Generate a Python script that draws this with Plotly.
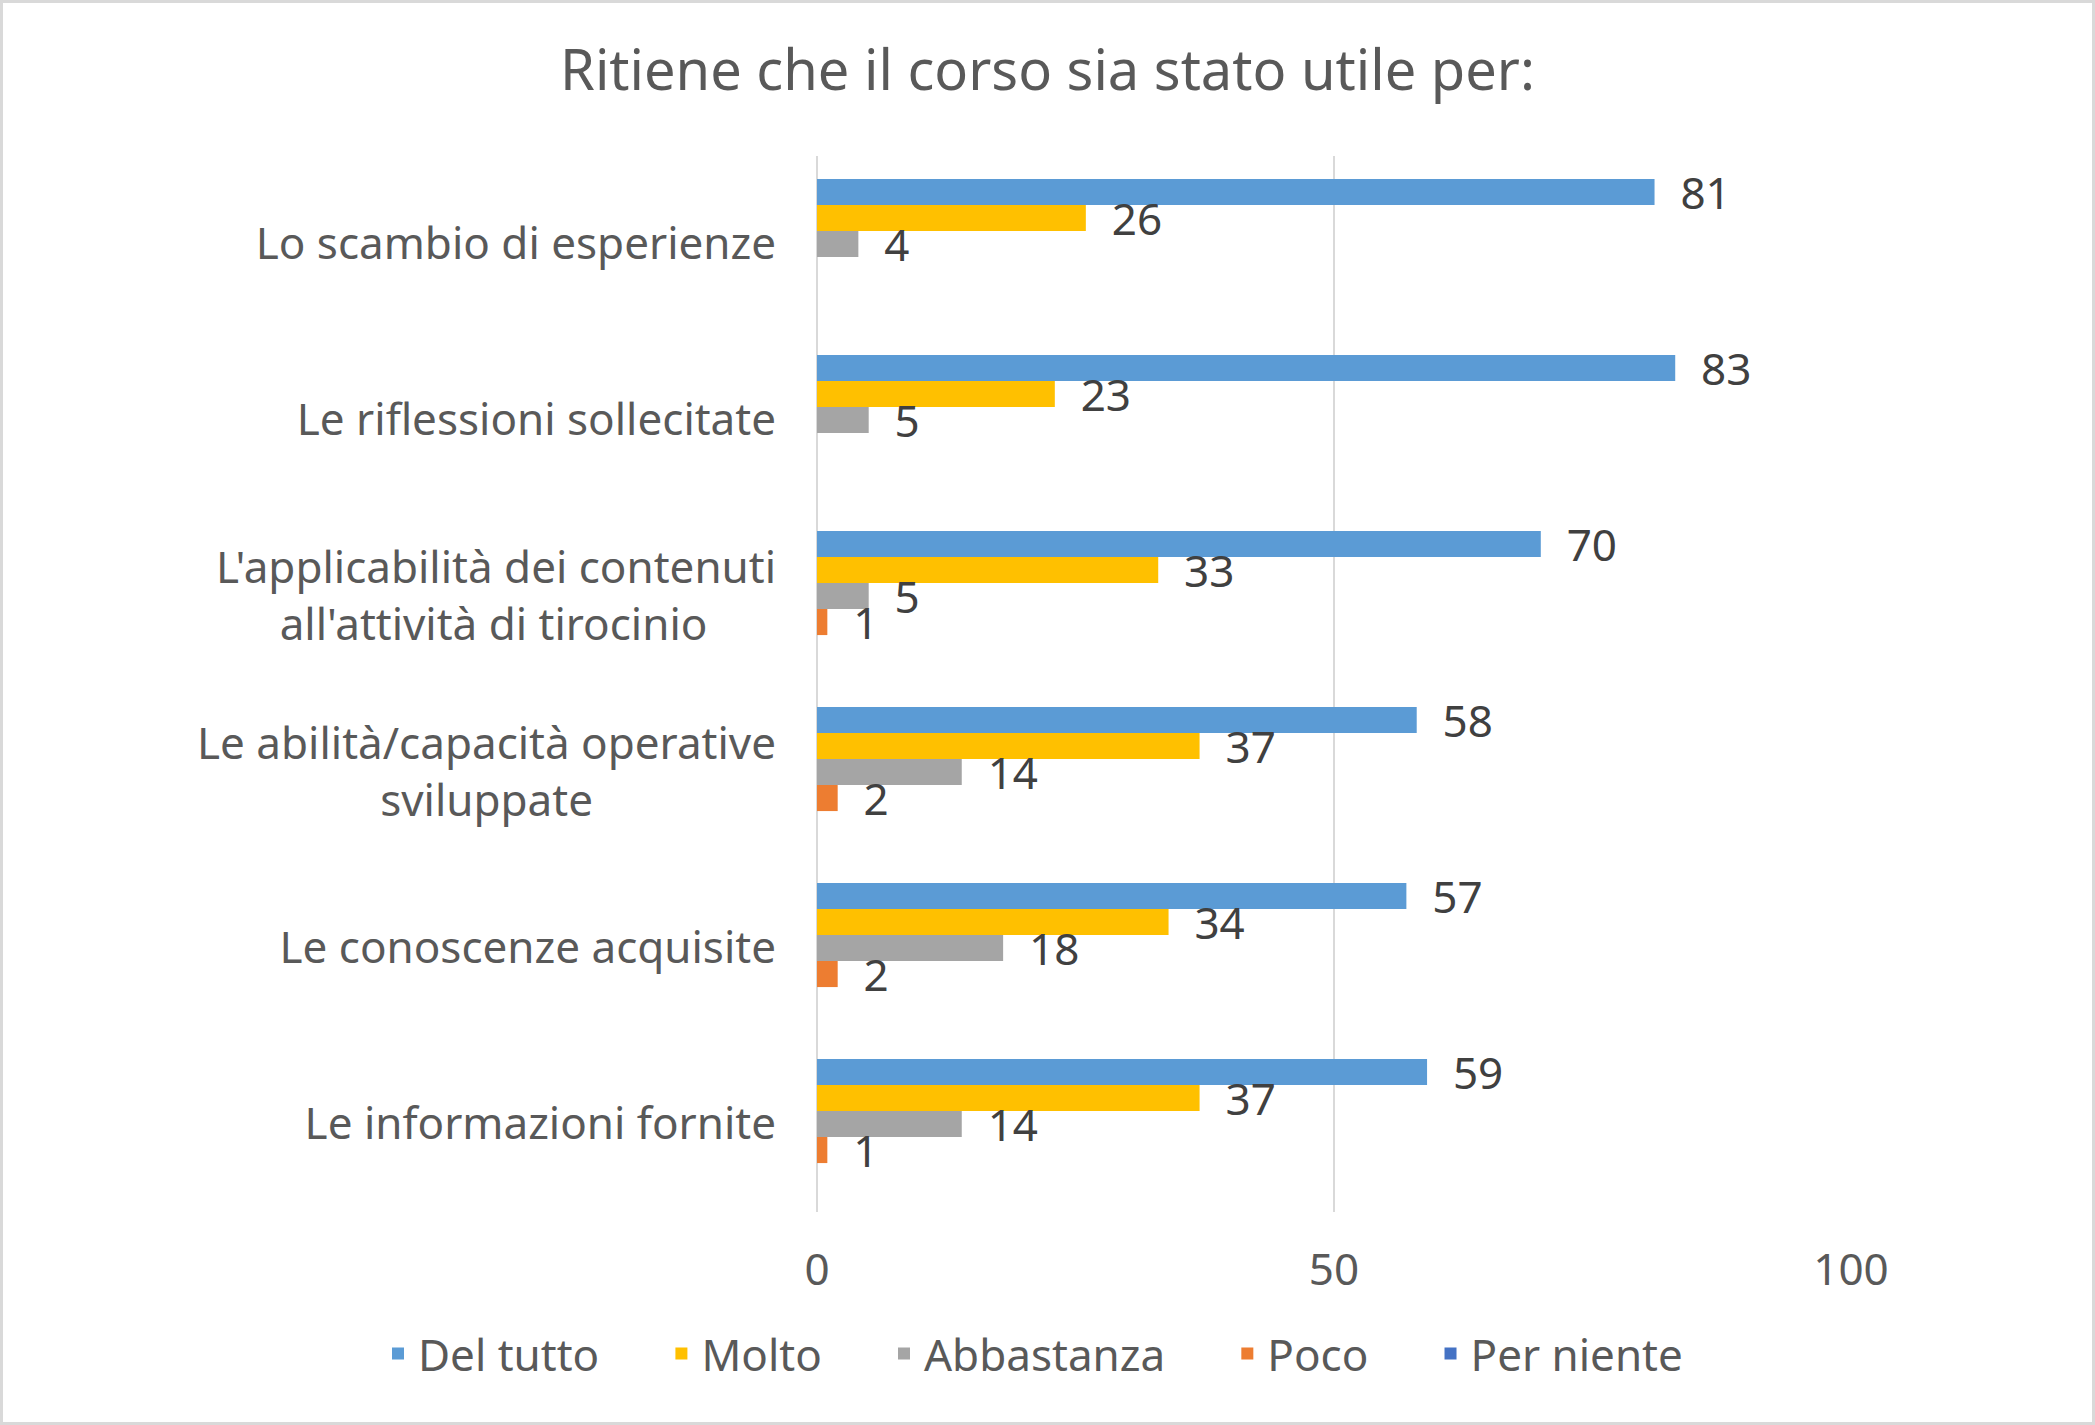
import plotly.graph_objects as go

NB = "\u00a0"

categories = [
    "Lo scambio di esperienze",
    "Le riflessioni sollecitate",
    "L'applicabilità dei contenuti<br>all'attività di tirocinio" + NB * 6,
    "Le abilità/capacità operative<br>sviluppate" + NB * 16,
    "Le conoscenze acquisite",
    "Le informazioni fornite",
]

series_names = ["Del tutto", "Molto", "Abbastanza", "Poco", "Per niente"]
del_tutto = [81, 83, 70, 58, 57, 59]
molto = [26, 23, 33, 37, 34, 37]
abbastanza = [4, 5, 5, 14, 18, 14]
poco = [None, None, 1, 2, 2, 1]
per_niente = [None, None, None, None, None, None]

series_values = [del_tutto, molto, abbastanza, poco, per_niente]
colors = ["#5B9BD5", "#FFC000", "#A5A5A5", "#ED7D31", "#4472C4"]

FONT = "Noto Sans"
FS = 44
W, H = 2095, 1425
L, R, T, B = 817, 244, 156, 213

fig = go.Figure()
for i, (name, vals, col) in enumerate(zip(series_names, series_values, colors)):
    fig.add_trace(go.Bar(
        y=categories,
        x=vals,
        name=name + (NB * 5 if i < len(series_names) - 1 else ""),
        orientation="h",
        marker=dict(color=col, line=dict(width=0)),
        text=[(NB * 2 + str(v)) if v is not None else "" for v in vals],
        textposition="outside",
        textfont=dict(family=FONT, size=FS, color="#404040"),
        constraintext="none",
        cliponaxis=False,
    ))

pw = W - L - R
ph = H - T - B

fig.update_layout(
    width=W, height=H,
    margin=dict(l=L, r=R, t=T, b=B, pad=0, autoexpand=False),
    paper_bgcolor="white",
    plot_bgcolor="white",
    barmode="group",
    bargap=0.26,
    bargroupgap=0,
    title=dict(
        text="Ritiene che il corso sia stato utile per:",
        font=dict(family=FONT, size=56, color="#595959"),
        x=0.5, xanchor="center",
        y=1 - 70 / H, yanchor="middle",
    ),
    font=dict(family=FONT, color="#595959"),
    xaxis=dict(
        range=[0, 100],
        tickvals=[0, 50, 100],
        ticktext=["0", "50", "100"],
        showgrid=True, gridcolor="#D9D9D9", gridwidth=2,
        zeroline=True, zerolinecolor="#D9D9D9", zerolinewidth=2,
        showline=False,
        ticks="",
        tickfont=dict(family=FONT, size=FS, color="#595959"),
        ticklabelstandoff=28,
        fixedrange=True,
    ),
    yaxis=dict(
        autorange="reversed",
        showgrid=False,
        zeroline=False,
        showline=False,
        ticks="",
        tickfont=dict(family=FONT, size=FS, color="#595959"),
        ticklabelstandoff=40,
        fixedrange=True,
    ),
    legend=dict(
        orientation="h",
        x=(378 - L) / pw, xanchor="left",
        y=(H - B - 1354) / ph, yanchor="middle",
        font=dict(family=FONT, size=FS, color="#595959"),
        itemwidth=30,
        traceorder="normal",
    ),
    showlegend=True,
)

# chart border
fig.add_shape(
    type="rect", xref="paper", yref="paper",
    x0=(1.5 - L) / pw, x1=(W - 1.5 - L) / pw,
    y0=(H - B - (H - 1.5)) / ph, y1=(H - B - 1.5) / ph,
    line=dict(color="#D9D9D9", width=3),
    fillcolor="rgba(0,0,0,0)",
    layer="below",
)

fig.write_html("out.html")
